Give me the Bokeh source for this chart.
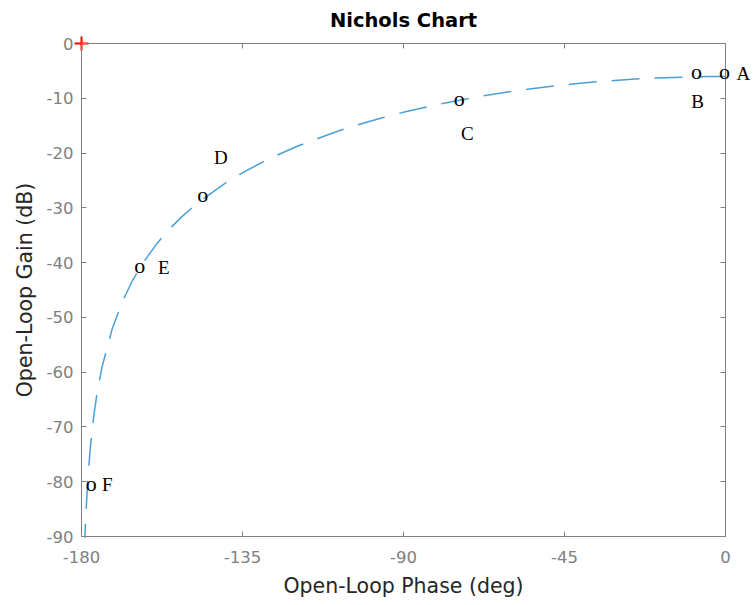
from bokeh.plotting import figure
from bokeh.models import (Range1d, FixedTicker, LinearAxis, Label, LabelSet,
                          ColumnDataSource)
from bokeh.embed import file_html
from bokeh.resources import INLINE

# Open-loop frequency response, phase (deg) and gain (dB)
curve_phase = [0.0, -0.86, -4.29, -8.57, -17.02, -25.23, -33.11, -40.60, -47.66,
               -54.28, -60.46, -66.22, -71.57, -81.15, -89.45, -96.65, -102.94,
               -108.43, -119.54, -127.88, -134.31, -139.40, -146.89, -152.10,
               -155.92, -158.84, -162.98, -165.78, -168.60, -171.43, -174.28,
               -175.71, -176.56, -177.54, -178.28, -178.86, -179.04]
curve_gain = [-6.02, -6.02, -6.03, -6.08, -6.23, -6.49, -6.84, -7.25, -7.73,
              -8.25, -8.81, -9.40, -10.00, -11.23, -12.47, -13.68, -14.87,
              -16.02, -18.71, -21.14, -23.33, -25.31, -28.77, -31.70,
              -34.23, -36.45, -40.21, -43.32, -47.14, -52.10, -59.11,
              -64.10, -67.97, -73.81, -80.00, -87.04, -90.21]

# Marked points along the curve
point_names = ["A", "B", "C", "D", "E", "F"]
point_phase = [-0.3, -8.1, -74.4, -146.1, -163.7, -177.3]
point_gain = [-5.4, -5.4, -10.4, -28.0, -40.9, -80.6]

# Critical point
critical_phase = [-180.0]
critical_gain = [0.0]

x_ticks = [-180, -135, -90, -45, 0]
x_tick_labels = ["-180", "-135", "-90", "-45", "0"]
y_ticks = [-90, -80, -70, -60, -50, -40, -30, -20, -10, 0]
y_tick_labels = ["-90", "-80", "-70", "-60", "-50", "-40", "-30", "-20",
                 "-10", "0"]
PHASE_MIN, PHASE_MAX = -180, 0
GAIN_MIN, GAIN_MAX = -90, 0

# pixel offsets of the letter next to each marked point
label_offsets = {"A": (19, 0), "B": (1, -28), "C": (8, -33),
                 "D": (18, 39), "E": (24, 0), "F": (16, 1)}

W, H = 754, 605
# margins (px) around the axes box; the frame covers the whole canvas so that
# marks and letters sitting on or beyond the box edge are not clipped
M_LEFT, M_RIGHT, M_TOP, M_BOTTOM = 81, 29, 43, 69
deg_per_px = (PHASE_MAX - PHASE_MIN) / (W - M_LEFT - M_RIGHT)
db_per_px = (GAIN_MAX - GAIN_MIN) / (H - M_TOP - M_BOTTOM)

AXIS_GRAY = "#808080"
TEXT_DARK = "#262626"
SANS = "DejaVu Sans"
SERIF = "Liberation Serif"

p = figure(width=W, height=H, output_backend="svg", toolbar_location=None,
           title=None, x_axis_location=None, y_axis_location=None,
           x_range=Range1d(PHASE_MIN - M_LEFT * deg_per_px,
                           PHASE_MAX + M_RIGHT * deg_per_px),
           y_range=Range1d(GAIN_MIN - M_BOTTOM * db_per_px,
                           GAIN_MAX + M_TOP * db_per_px))
p.min_border = 0
p.background_fill_color = "white"
p.border_fill_color = "white"
p.outline_line_color = None
p.grid.visible = False

def make_axis(ticks, labels, location, bounds, show_labels):
    ax = LinearAxis(ticker=FixedTicker(ticks=ticks), fixed_location=location,
                    bounds=bounds)
    ax.axis_line_color = AXIS_GRAY
    ax.major_tick_line_color = AXIS_GRAY
    ax.major_tick_in = 5
    ax.major_tick_out = 0
    ax.minor_tick_line_color = None
    if show_labels:
        ax.major_label_overrides = dict(zip(ticks, labels))
        ax.major_label_text_font = SANS
        ax.major_label_text_font_size = "16.5px"
        ax.major_label_text_color = AXIS_GRAY
        ax.axis_label_text_font = SANS
        ax.axis_label_text_font_size = "20.5px"
        ax.axis_label_text_font_style = "normal"
        ax.axis_label_text_color = TEXT_DARK
    else:
        # mirrored box side: ticks only
        ax.major_label_text_color = None
        ax.major_label_standoff = 0
    return ax

x_axis = make_axis(x_ticks, x_tick_labels, GAIN_MIN, (PHASE_MIN, PHASE_MAX), True)
x_axis.axis_label = "Open-Loop Phase (deg)"
x_axis.major_label_standoff = 14
x_axis.axis_label_standoff = 8
y_axis = make_axis(y_ticks, y_tick_labels, PHASE_MIN, (GAIN_MIN, GAIN_MAX), True)
y_axis.axis_label = "Open-Loop Gain (dB)"
y_axis.major_label_standoff = 8
y_axis.axis_label_standoff = 7
top_axis = make_axis(x_ticks, x_tick_labels, GAIN_MAX, (PHASE_MIN, PHASE_MAX), False)
right_axis = make_axis(y_ticks, y_tick_labels, PHASE_MAX, (GAIN_MIN, GAIN_MAX), False)
p.add_layout(x_axis, "below")
p.add_layout(y_axis, "left")
p.add_layout(top_axis, "above")
p.add_layout(right_axis, "right")

# title, centred over the axes box
p.add_layout(Label(x=(PHASE_MIN + PHASE_MAX) / 2, y=GAIN_MAX, y_offset=23,
                   text="Nichols Chart", text_align="center",
                   text_baseline="middle", text_font=SANS,
                   text_font_size="19.5px", text_font_style="bold",
                   text_color="black"))

# dashed response curve
p.line(curve_phase, curve_gain, line_color="#4a9fd8", line_width=1.5,
       line_dash="28 15")

# circle markers drawn as serif "o" glyphs
pts = ColumnDataSource(dict(x=point_phase, y=point_gain, name=point_names,
                            mark=["o"] * len(point_names)))
p.add_layout(LabelSet(x="x", y="y", text="mark", source=pts, y_offset=2,
                      text_align="center", text_baseline="middle",
                      text_font=SERIF, text_font_size="22px",
                      text_color="black"))

for name, x, y in zip(point_names, point_phase, point_gain):
    dx, dy = label_offsets[name]
    p.add_layout(Label(x=x, y=y, text=name, x_offset=dx, y_offset=dy,
                       text_align="center", text_baseline="middle",
                       text_font=SERIF, text_font_size="19px",
                       text_color="black"))

# critical point marker
p.scatter(critical_phase, critical_gain, marker="cross", size=14,
          line_color="#ff0000", line_width=2)

open("out.html", "w").write(file_html(p, INLINE))
